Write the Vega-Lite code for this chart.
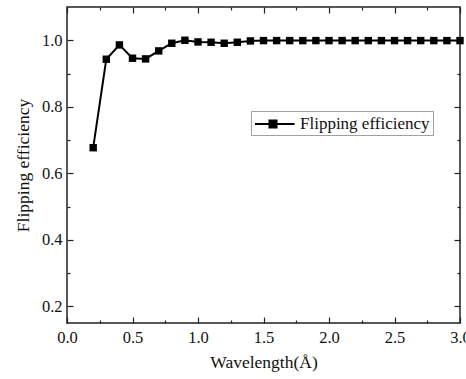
{
  "$schema": "https://vega.github.io/schema/vega-lite/v6.json",
  "width": 393,
  "height": 316,
  "autosize": {"type": "none"},
  "padding": {"left": 67, "top": 7, "right": 6, "bottom": 56},
  "background": "white",
  "config": {
    "view": {"stroke": "#222", "strokeWidth": 1.5},
    "font": "Liberation Serif",
    "axis": {
      "domain": false,
      "grid": false,
      "labelFont": "Liberation Serif",
      "titleFont": "Liberation Serif",
      "labelFontSize": 16.5,
      "titleFontSize": 17.5,
      "titleFontWeight": "normal",
      "labelColor": "#111",
      "titleColor": "#111",
      "tickColor": "#222",
      "tickWidth": 1.2
    }
  },
  "data": {
    "values": [
      {"wl": 0.2, "eff": 0.677, "s": "Flipping efficiency"},
      {"wl": 0.3, "eff": 0.943, "s": "Flipping efficiency"},
      {"wl": 0.4, "eff": 0.986, "s": "Flipping efficiency"},
      {"wl": 0.5, "eff": 0.946, "s": "Flipping efficiency"},
      {"wl": 0.6, "eff": 0.944, "s": "Flipping efficiency"},
      {"wl": 0.7, "eff": 0.968, "s": "Flipping efficiency"},
      {"wl": 0.8, "eff": 0.991, "s": "Flipping efficiency"},
      {"wl": 0.9, "eff": 1.0, "s": "Flipping efficiency"},
      {"wl": 1.0, "eff": 0.995, "s": "Flipping efficiency"},
      {"wl": 1.1, "eff": 0.994, "s": "Flipping efficiency"},
      {"wl": 1.2, "eff": 0.991, "s": "Flipping efficiency"},
      {"wl": 1.3, "eff": 0.994, "s": "Flipping efficiency"},
      {"wl": 1.4, "eff": 0.998, "s": "Flipping efficiency"},
      {"wl": 1.5, "eff": 0.999, "s": "Flipping efficiency"},
      {"wl": 1.6, "eff": 0.999, "s": "Flipping efficiency"},
      {"wl": 1.7, "eff": 0.999, "s": "Flipping efficiency"},
      {"wl": 1.8, "eff": 0.999, "s": "Flipping efficiency"},
      {"wl": 1.9, "eff": 0.999, "s": "Flipping efficiency"},
      {"wl": 2.0, "eff": 0.999, "s": "Flipping efficiency"},
      {"wl": 2.1, "eff": 0.999, "s": "Flipping efficiency"},
      {"wl": 2.2, "eff": 0.999, "s": "Flipping efficiency"},
      {"wl": 2.3, "eff": 0.999, "s": "Flipping efficiency"},
      {"wl": 2.4, "eff": 0.999, "s": "Flipping efficiency"},
      {"wl": 2.5, "eff": 0.999, "s": "Flipping efficiency"},
      {"wl": 2.6, "eff": 0.999, "s": "Flipping efficiency"},
      {"wl": 2.7, "eff": 0.999, "s": "Flipping efficiency"},
      {"wl": 2.8, "eff": 0.999, "s": "Flipping efficiency"},
      {"wl": 2.9, "eff": 0.999, "s": "Flipping efficiency"},
      {"wl": 3.0, "eff": 0.999, "s": "Flipping efficiency"}
    ]
  },
  "resolve": {"axis": {"x": "independent", "y": "independent"}},
  "layer": [
    {
      "mark": {"type": "line", "color": "black", "strokeWidth": 2, "clip": false},
      "encoding": {
        "x": {
          "field": "wl", "type": "quantitative",
          "scale": {"domain": [0, 3], "nice": false, "zero": false},
          "axis": {
            "orient": "bottom",
            "title": "Wavelength(Å)",
            "values": [0, 0.25, 0.5, 0.75, 1, 1.25, 1.5, 1.75, 2, 2.25, 2.5, 2.75, 3],
            "labelExpr": "round(datum.value*4) % 2 == 0 ? format(datum.value, '.1f') : ''",
            "tickSize": {"condition": {"test": "round(datum.value*4) % 2 == 0", "value": -6}, "value": -3},
            "labelPadding": 12,
            "titlePadding": 8,
            "labelFlush": false
          }
        },
        "y": {
          "field": "eff", "type": "quantitative",
          "scale": {"domain": [0.15, 1.1], "nice": false, "zero": false},
          "axis": {
            "orient": "left",
            "title": "Flipping efficiency",
            "values": [0.2, 0.3, 0.4, 0.5, 0.6, 0.7, 0.8, 0.9, 1.0],
            "labelExpr": "round(datum.value*10) % 2 == 0 ? format(datum.value, '.1f') : ''",
            "tickSize": {"condition": {"test": "round(datum.value*10) % 2 == 0", "value": -6}, "value": -3},
            "labelPadding": 11,
            "titlePadding": 9
          }
        }
      }
    },
    {
      "mark": {"type": "point", "shape": "square", "filled": true, "size": 55, "opacity": 1, "clip": false},
      "encoding": {
        "x": {
          "field": "wl", "type": "quantitative",
          "axis": {
            "orient": "top",
            "title": null,
            "labels": false,
            "values": [0, 0.25, 0.5, 0.75, 1, 1.25, 1.5, 1.75, 2, 2.25, 2.5, 2.75, 3],
            "tickSize": {"condition": {"test": "round(datum.value*4) % 2 == 0", "value": -6}, "value": -3}
          }
        },
        "y": {
          "field": "eff", "type": "quantitative",
          "axis": {
            "orient": "right",
            "title": null,
            "labels": false,
            "values": [0.2, 0.3, 0.4, 0.5, 0.6, 0.7, 0.8, 0.9, 1.0],
            "tickSize": {"condition": {"test": "round(datum.value*10) % 2 == 0", "value": -6}, "value": -3}
          }
        },
        "color": {
          "field": "s", "type": "nominal",
          "scale": {"range": ["black"]},
          "legend": {
            "title": null,
            "orient": "none",
            "legendX": 184,
            "legendY": 104,
            "padding": 3,
            "strokeColor": "#a0a0a0",
            "fillColor": "white",
            "symbolType": "M-1,0H3.4M0.61,-0.39H1.39V0.39H0.61Z",
            "symbolSize": 324,
            "symbolStrokeWidth": 2,
            "symbolStrokeColor": "black",
            "symbolFillColor": "black",
            "labelOffset": 26,
            "labelFont": "Liberation Serif",
            "labelFontSize": 17,
            "labelColor": "#111",
            "encode": {
              "symbols": {"update": {"stroke": {"value": "black"}, "fill": {"value": "black"}, "strokeWidth": {"value": 2}, "opacity": {"value": 1}}}
            }
          }
        }
      }
    }
  ]
}
